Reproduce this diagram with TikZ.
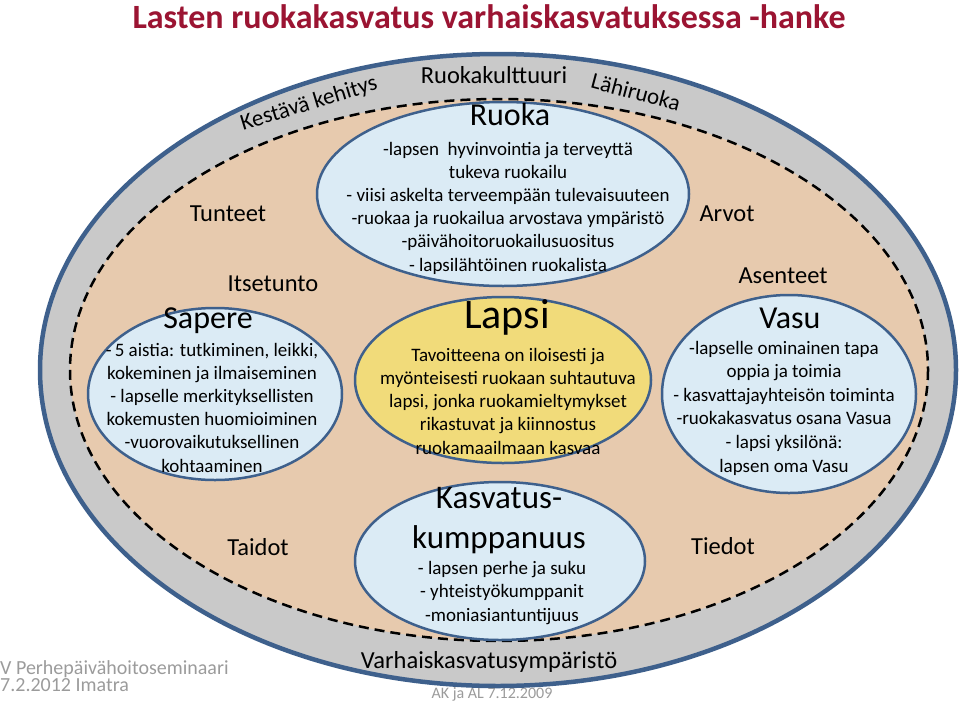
\documentclass[tikz,border=0pt]{standalone}
\usepackage{fontspec}
\setmainfont{Carlito}
\usetikzlibrary{shapes.geometric}
\definecolor{bord}{RGB}{62,96,140}
\definecolor{ringgray}{RGB}{201,201,201}
\definecolor{tanfill}{RGB}{231,202,174}
\definecolor{lightblue}{RGB}{219,235,245}
\definecolor{lapsiyellow}{RGB}{241,219,122}
\definecolor{titlered}{RGB}{155,20,50}
\definecolor{footgray}{RGB}{155,155,155}
\tikzset{
  oval/.style={draw=bord, line width=2.5pt, fill=lightblue},
  lbl/.style={font=\fontsize{24.5}{28}\selectfont, anchor=base, inner sep=0pt},
  body/.style={font=\fontsize{19}{23.2}\selectfont, align=center, anchor=base, inner sep=0pt},
  head/.style={font=\fontsize{32}{38}\selectfont, anchor=base, inner sep=0pt},
  foot/.style={font=\fontsize{20}{17}\selectfont, text=footgray, anchor=base west, inner sep=0pt}
}
\begin{document}
\begin{tikzpicture}[x=1pt,y=-1pt]
\useasboundingbox (0,0) rectangle (960,704);
% footer texts
\node[font=\fontsize{16}{18}\selectfont, text=footgray, anchor=base, inner sep=0pt] (ak) at (492,698) {AK ja AL 7.12.2009};
\node[foot] (sem1) at (0,674) {V Perhepäivähoitoseminaari};
\node[foot] (sem2) at (0,691) {7.2.2012 Imatra};
% title
\node[font=\fontsize{34}{38}\selectfont\bfseries, text=titlered, anchor=base, inner sep=0pt] (title) at (489,28) {Lasten ruokakasvatus varhaiskasvatuksessa -hanke};
% rings
\coordinate (ringc) at (498,370);
\coordinate (innerc) at (499,370);
\draw[draw=bord, line width=4.5pt, fill=ringgray] (ringc) ellipse [x radius=458, y radius=316];
\draw[draw=black, line width=2.5pt, dash pattern=on 10pt off 6pt, fill=tanfill] (innerc) ellipse [x radius=429, y radius=271];
% outer ring labels
\node[lbl] (kulttuuri) at (494,83) {Ruokakulttuuri};
\node[font=\fontsize{23}{26}\selectfont, rotate=17, inner sep=0pt] (kestava) at (309,104) {Kestävä kehitys};
\node[font=\fontsize{23}{26}\selectfont, rotate=-15, inner sep=0pt] (lahiruoka) at (636,92) {Lähiruoka};
\node[lbl] (ymparisto) at (489,668) {Varhaiskasvatusympäristö};
% inner ring labels
\node[lbl] (tunteet) at (228,221) {Tunteet};
\node[lbl] (itsetunto) at (273,291) {Itsetunto};
\node[lbl] (arvot) at (727,221) {Arvot};
\node[lbl] (asenteet) at (783,283) {Asenteet};
\node[lbl] (taidot) at (258,555) {Taidot};
\node[lbl] (tiedot) at (723,554) {Tiedot};
% ellipses
\coordinate (ruokac) at (503,194);
\coordinate (lapsic) at (503,380);
\coordinate (kasvc) at (500,561);
\coordinate (saperec) at (215,394);
\coordinate (vasuc) at (789,394);
\draw[oval] (ruokac) ellipse [x radius=186, y radius=92];
\draw[oval, fill=lapsiyellow] (lapsic) ellipse [x radius=148, y radius=83];
\draw[oval] (kasvc) ellipse [x radius=145, y radius=79];
\draw[oval] (saperec) ellipse [x radius=127, y radius=86];
\draw[oval] (vasuc) ellipse [x radius=127, y radius=99];
% Ruoka (base anchor = last line)
\node[head] (ruokah) at (510,125) {Ruoka};
\node[body] (ruokab) at (508,271) {-lapsen\ \ hyvinvointia ja terveyttä\\tukeva ruokailu\\- viisi askelta terveempään tulevaisuuteen\\-ruokaa ja ruokailua arvostava ympäristö\\-päivähoitoruokailusuositus\\- lapsilähtöinen ruokalista};
% Sapere
\node[head] (sapereh) at (208,328) {Sapere};
\node[body] (sapereb) at (212,472) {-\,5 aistia: tutkiminen, leikki,\\kokeminen ja ilmaiseminen\\- lapselle merkityksellisten\\kokemusten huomioiminen\\-vuorovaikutuksellinen\\kohtaaminen};
% Lapsi
\node[head, font=\fontsize{42}{48}\selectfont] (lapsih) at (507,328) {Lapsi};
\node[body] (lapsib) at (508,454) {Tavoitteena on iloisesti ja\\myönteisesti ruokaan suhtautuva\\lapsi, jonka ruokamieltymykset\\rikastuvat ja kiinnostus\\ruokamaailmaan kasvaa};
% Vasu
\node[head] (vasuh) at (790,328) {Vasu};
\node[body, font=\fontsize{19}{23.6}\selectfont] (vasub) at (784,472) {-lapselle ominainen tapa\\oppia ja toimia\\- kasvattajayhteisön toiminta\\-ruokakasvatus osana Vasua\\- lapsi yksilönä:\\lapsen oma Vasu};
% Kasvatuskumppanuus
\node[head, font=\fontsize{33}{40}\selectfont, align=center] (kasvh) at (499,548) {Kasvatus-\\kumppanuus};
\node[body] (kasvb) at (502,621) {- lapsen perhe ja suku\\- yhteistyökumppanit\\-moniasiantuntijuus};
\end{tikzpicture}
\end{document}
